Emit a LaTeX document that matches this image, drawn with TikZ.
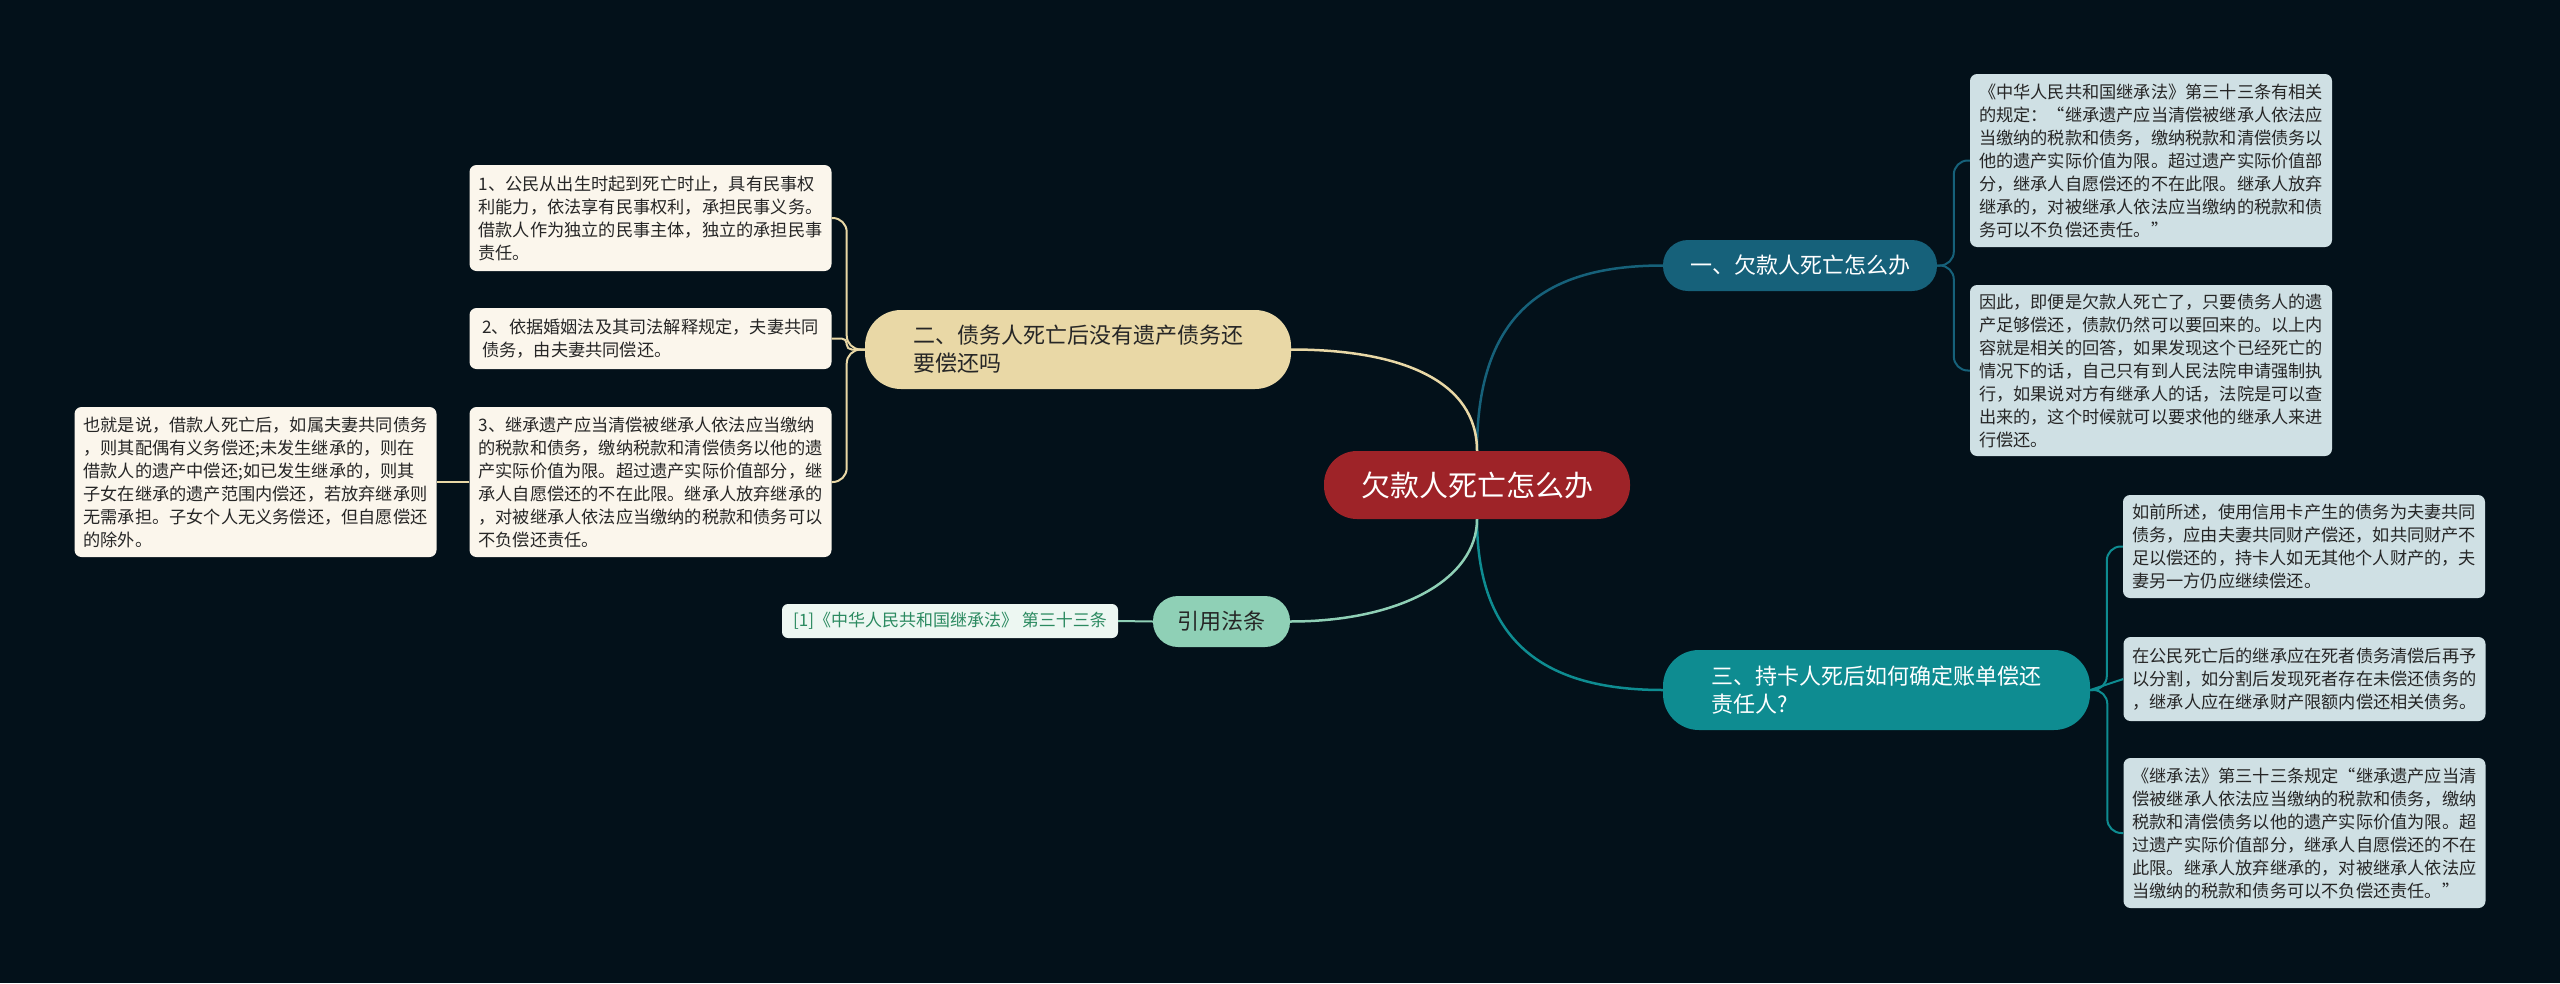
\documentclass[tikz,border=0pt]{standalone}
\usepackage{fontspec}
\setmainfont{Noto Sans CJK SC}
\usetikzlibrary{calc}
\definecolor{bgc}{HTML}{03111A}
\definecolor{cred}{HTML}{9E2328}
\definecolor{cone}{HTML}{16617A}
\definecolor{cthree}{HTML}{0E8C91}
\definecolor{ctwo}{HTML}{E9D8A6}
\definecolor{cfour}{HTML}{8FD0B6}
\definecolor{rfill}{HTML}{CFE0E4}
\definecolor{lfill}{HTML}{FBF6EC}
\definecolor{cfill}{HTML}{EDF7F2}
\definecolor{ctxt}{HTML}{2B8A60}
\definecolor{dtxt}{HTML}{262626}
\begin{document}
\begin{tikzpicture}[x=1pt,y=1pt,
  box/.style={rounded corners=7pt, inner xsep=9pt, inner ysep=4pt, align=left,
    font=\fontsize{17.2}{23}\selectfont, text=dtxt, minimum width=362pt},
  rbox/.style={box, fill=rfill},
  lbox/.style={box, fill=lfill},
  topic/.style={rounded corners=25pt, align=left, inner sep=4pt,
    font=\fontsize{22}{28}\selectfont},
  mainline/.style={line width=2.5pt},
  subline/.style={line width=2pt, rounded corners=14pt}]
\useasboundingbox (0,0) rectangle (2560,-983);
\fill[bgc] (0,0) rectangle (2560,-983);

% central
\node[topic, rounded corners=33pt, fill=cred, text=white, minimum width=306pt, minimum height=68pt,
  font=\fontsize{29}{34}\selectfont] (C) at (1477,-485) {欠款人死亡怎么办};

% main topics
\node[topic, fill=cone, text=white, minimum width=274pt, minimum height=51pt] (N1) at (1800,-265.5) {一、欠款人死亡怎么办};
\node[topic, rounded corners=36pt, fill=cthree, text=white, minimum width=427pt, minimum height=80pt] (N3) at (1876.5,-690) {三、持卡人死后如何确定账单偿还\\责任人?};
\node[topic, rounded corners=36pt, fill=ctwo, text=dtxt, minimum width=426pt, minimum height=79pt] (N2) at (1078,-349.5) {二、债务人死亡后没有遗产债务还\\要偿还吗};
\node[topic, fill=cfour, text=dtxt, minimum width=137pt, minimum height=51pt] (N4) at (1221.5,-621.5) {引用法条};

% citation
\node[rounded corners=6pt, fill=cfill, text=ctxt, minimum width=336pt, minimum height=34pt,
  inner sep=3pt, font=\fontsize{17}{21}\selectfont] (Cit) at (950,-621) {[1]《中华人民共和国继承法》 第三十三条};

% right boxes
\node[rbox, minimum height=173pt] (R1) at (2151,-160.5) {《中华人民共和国继承法》第三十三条有相关\\的规定：“继承遗产应当清偿被继承人依法应\\当缴纳的税款和债务，缴纳税款和清偿债务以\\他的遗产实际价值为限。超过遗产实际价值部\\分，继承人自愿偿还的不在此限。继承人放弃\\继承的，对被继承人依法应当缴纳的税款和债\\务可以不负偿还责任。”};
\node[rbox, minimum height=171pt] (R2) at (2151,-370.5) {因此，即便是欠款人死亡了，只要债务人的遗\\产足够偿还，债款仍然可以要回来的。以上内\\容就是相关的回答，如果发现这个已经死亡的\\情况下的话，自己只有到人民法院申请强制执\\行，如果说对方有继承人的话，法院是可以查\\出来的，这个时候就可以要求他的继承人来进\\行偿还。};
\node[rbox, minimum height=103pt] (R3) at (2304,-546.5) {如前所述，使用信用卡产生的债务为夫妻共同\\债务，应由夫妻共同财产偿还，如共同财产不\\足以偿还的，持卡人如无其他个人财产的，夫\\妻另一方仍应继续偿还。};
\node[rbox, minimum height=84pt] (R4) at (2304.5,-679) {在公民死亡后的继承应在死者债务清偿后再予\\以分割，如分割后发现死者存在未偿还债务的\\，继承人应在继承财产限额内偿还相关债务。};
\node[rbox, minimum height=150pt] (R5) at (2304.5,-833) {《继承法》第三十三条规定“继承遗产应当清\\偿被继承人依法应当缴纳的税款和债务，缴纳\\税款和清偿债务以他的遗产实际价值为限。超\\过遗产实际价值部分，继承人自愿偿还的不在\\此限。继承人放弃继承的，对被继承人依法应\\当缴纳的税款和债务可以不负偿还责任。”};

% left boxes
\node[lbox, minimum height=106pt] (L1) at (650.5,-218) {1、公民从出生时起到死亡时止，具有民事权\\利能力，依法享有民事权利，承担民事义务。\\借款人作为独立的民事主体，独立的承担民事\\责任。};
\node[lbox, minimum height=61pt] (L2) at (650.5,-338.5) {2、依据婚姻法及其司法解释规定，夫妻共同\\债务，由夫妻共同偿还。};
\node[lbox, minimum height=150pt] (L3) at (650.5,-482) {3、继承遗产应当清偿被继承人依法应当缴纳\\的税款和债务，缴纳税款和清偿债务以他的遗\\产实际价值为限。超过遗产实际价值部分，继\\承人自愿偿还的不在此限。继承人放弃继承的\\，对被继承人依法应当缴纳的税款和债务可以\\不负偿还责任。};
\node[lbox, minimum height=150pt] (LL) at (255.5,-482) {也就是说，借款人死亡后，如属夫妻共同债务\\，则其配偶有义务偿还;未发生继承的，则在\\借款人的遗产中偿还;如已发生继承的，则其\\子女在继承的遗产范围内偿还，若放弃继承则\\无需承担。子女个人无义务偿还，但自愿偿还\\的除外。};

% main connectors
\draw[mainline, cone] (C.north) .. controls ($(C.north)+(0,140)$) and ($(N1.west)+(-115,0)$) .. (N1.west);
\draw[mainline, ctwo] (C.north) .. controls ($(C.north)+(0,70)$) and ($(N2.east)+(110,0)$) .. (N2.east);
\draw[mainline, cthree] (C.south) .. controls ($(C.south)+(0,-130)$) and ($(N3.west)+(-110,0)$) .. (N3.west);
\draw[mainline, cfour] (C.south) .. controls ($(C.south)+(0,-60)$) and ($(N4.east)+(110,0)$) .. (N4.east);

% sub connectors
\draw[subline, cone] (N1.east) -| ($(R1.west)+(-16,0)$) -- (R1.west);
\draw[subline, cone] (N1.east) -| ($(R2.west)+(-16,0)$) -- (R2.west);
\draw[subline, cthree] (N3.east) -| ($(R3.west)+(-16,0)$) -- (R3.west);
\draw[subline, cthree] (N3.east) -- (R4.west);
\draw[subline, cthree] (N3.east) -| ($(R5.west)+(-16,0)$) -- (R5.west);
\draw[subline, ctwo] (N2.west) -| ($(L1.east)+(15,0)$) -- (L1.east);
\draw[subline, ctwo, rounded corners=5pt] (N2.west) -| ($(L2.east)+(15,0)$) -- (L2.east);
\draw[subline, ctwo] (N2.west) -| ($(L3.east)+(15,0)$) -- (L3.east);
\draw[subline, ctwo] (L3.west) -- (LL.east);
\draw[subline, cfour] (N4.west) -- (Cit.east);
\end{tikzpicture}
\end{document}
